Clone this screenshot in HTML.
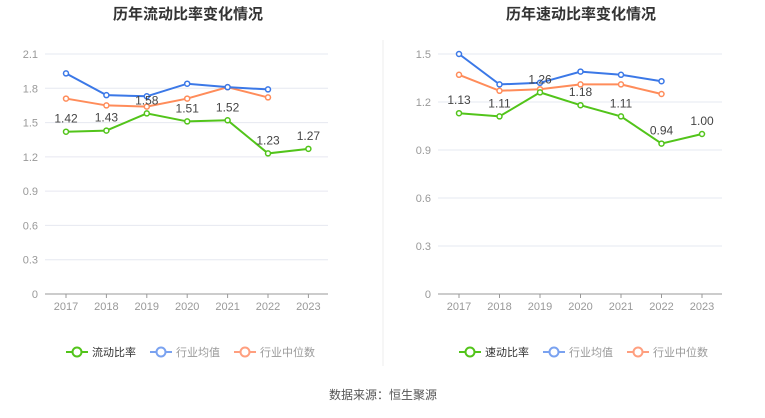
<!DOCTYPE html><html><head><meta charset="utf-8"><style>
body{margin:0;background:#fff;font-family:"Liberation Sans","Noto Sans CJK SC",sans-serif}
</style></head><body>
<svg id="s" width="765" height="413" xmlns="http://www.w3.org/2000/svg" font-family="Liberation Sans, Noto Sans CJK SC, sans-serif"></svg>
<script>
const s=document.getElementById('s');let h='';
h+='<line x1="383" y1="40" x2="383" y2="366" stroke="#eee"/>';
h+='<text x="188" y="19" text-anchor="middle" font-size="15" font-weight="bold" fill="#333">历年流动比率变化情况</text>';
h+='<text x="581" y="19" text-anchor="middle" font-size="15" font-weight="bold" fill="#333">历年速动比率变化情况</text>';
h+='<text x="383" y="399" text-anchor="middle" font-size="12" fill="#555">数据来源：恒生聚源</text>';
function chart(x0,x1,xs,step,ymax,ticks,fmt,series,labels,name){
 const y0=294,yt=54;const Y=v=>y0-(v/ymax)*(y0-yt);
 ticks.forEach(t=>{const y=Y(t);if(t>0)h+=`<line x1="${x0}" y1="${y}" x2="${x1}" y2="${y}" stroke="#e6e8f0"/>`;h+=`<text x="${x0-7}" y="${y+4}" text-anchor="end" font-size="11" fill="#999">${fmt(t)}</text>`});
 h+=`<line x1="${x0}" y1="${y0}" x2="${x1}" y2="${y0}" stroke="#999"/>`;
 for(let i=0;i<7;i++){const x=xs+i*step;h+=`<line x1="${x}" y1="${y0}" x2="${x}" y2="${y0+4}" stroke="#999"/><text x="${x}" y="${y0+16}" text-anchor="middle" font-size="11" fill="#999">${2017+i}</text>`}
 series.forEach(([d,c])=>{const p=d.map((v,i)=>`${xs+i*step},${Y(v)}`).join(' ');h+=`<polyline points="${p}" fill="none" stroke="${c}" stroke-width="2"/>`;d.forEach((v,i)=>h+=`<circle cx="${xs+i*step}" cy="${Y(v)}" r="2.5" fill="#fff" stroke="${c}" stroke-width="1.5"/>`)});
 labels.forEach((v,i)=>h+=`<text x="${xs+i*step}" y="${Y(v)-9}" text-anchor="middle" font-size="12" fill="#444">${v.toFixed(2)}</text>`);
 const lx=xs;const items=[[name,'#52c41a','#333'],['行业均值','#7aa2f0','#999'],['行业中位数','#ff9f7f','#999']];let x=lx;
 items.forEach(([n,c,tc])=>{h+=`<line x1="${x}" y1="352" x2="${x+22}" y2="352" stroke="${c}" stroke-width="2"/><circle cx="${x+11}" cy="352" r="4.5" fill="#fff" stroke="${c}" stroke-width="2"/><text x="${x+26}" y="356" font-size="11" fill="${tc}">${n}</text>`;x+=26+n.length*11+14});
}
const g1=[1.42,1.43,1.58,1.51,1.52,1.23,1.27];
chart(45,328,66,40.4,2.1,[0,0.3,0.6,0.9,1.2,1.5,1.8,2.1],t=>t===0?'0':t.toFixed(1),
 [[[1.71,1.65,1.64,1.71,1.81,1.72],'#ff8c5a'],[[1.93,1.74,1.73,1.84,1.81,1.79],'#3b78e7'],[g1,'#52c41a']],g1,'流动比率');
const g2=[1.13,1.11,1.26,1.18,1.11,0.94,1.00];
chart(438,722,459,40.5,1.5,[0,0.3,0.6,0.9,1.2,1.5],t=>t===0?'0':t.toFixed(1),
 [[[1.37,1.27,1.28,1.31,1.31,1.25],'#ff8c5a'],[[1.50,1.31,1.32,1.39,1.37,1.33],'#3b78e7'],[g2,'#52c41a']],g2,'速动比率');
s.innerHTML=h;
</script></body></html>
